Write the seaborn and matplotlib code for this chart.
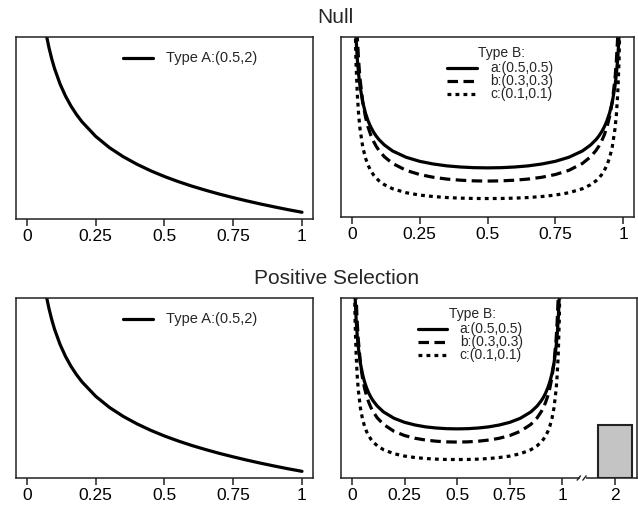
import numpy as np
import pandas as pd
import matplotlib
matplotlib.use("Agg")
import matplotlib.pyplot as plt
from matplotlib.lines import Line2D
import seaborn as sns

# ---------------- data ----------------
xA = [0.06, 0.07, 0.08, 0.09, 0.10, 0.12, 0.14, 0.16, 0.18, 0.20, 0.25, 0.30, 0.35,
      0.40, 0.45, 0.50, 0.55, 0.60, 0.65, 0.70, 0.75, 0.80, 0.85, 0.90, 0.95, 1.00]
yA = [2.878, 2.636, 2.440, 2.275, 2.134, 1.905, 1.724, 1.575, 1.450, 1.342, 1.125, 0.958, 0.824,
      0.712, 0.615, 0.530, 0.455, 0.387, 0.326, 0.269, 0.217, 0.168, 0.122, 0.079, 0.038, 0.0]

xB = [0.005, 0.01, 0.015, 0.02, 0.025, 0.03, 0.04, 0.05, 0.06, 0.07, 0.08, 0.09, 0.10, 0.12, 0.15,
      0.20, 0.25, 0.30, 0.35, 0.40, 0.45, 0.50, 0.55, 0.60, 0.65, 0.70, 0.75, 0.80, 0.85, 0.88,
      0.90, 0.91, 0.92, 0.93, 0.94, 0.95, 0.96, 0.97, 0.975, 0.98, 0.985, 0.99, 0.995]
yBa = [4.513, 3.199, 2.619, 2.274, 2.039, 1.866, 1.624, 1.461, 1.340, 1.248, 1.173, 1.112, 1.061, 0.980, 0.891,
       0.796, 0.735, 0.695, 0.667, 0.650, 0.640, 0.637, 0.640, 0.650, 0.667, 0.695, 0.735, 0.796, 0.891, 0.980,
       1.061, 1.112, 1.173, 1.248, 1.340, 1.461, 1.624, 1.866, 2.039, 2.274, 2.619, 3.199, 4.513]
yBb = [6.81, 4.210, 3.180, 2.609, 2.240, 1.979, 1.630, 1.404, 1.245, 1.126, 1.034, 0.959, 0.898, 0.803, 0.704,
       0.600, 0.537, 0.496, 0.469, 0.452, 0.442, 0.439, 0.442, 0.452, 0.469, 0.496, 0.537, 0.600, 0.704, 0.803,
       0.898, 0.959, 1.034, 1.126, 1.245, 1.404, 1.630, 1.979, 2.240, 2.609, 3.180, 4.210, 6.81]
yBc = [6.0, 3.229, 2.252, 1.746, 1.435, 1.224, 0.954, 0.787, 0.675, 0.593, 0.531, 0.482, 0.443, 0.384, 0.324,
       0.264, 0.229, 0.207, 0.192, 0.183, 0.178, 0.177, 0.178, 0.183, 0.192, 0.207, 0.229, 0.264, 0.324, 0.384,
       0.443, 0.482, 0.531, 0.593, 0.675, 0.787, 0.954, 1.224, 1.435, 1.746, 2.252, 3.229, 6.0]

labelA = "Type A:(0.5,2)"
legendB_title = "Type B:"
labelsB = ["a:(0.5,0.5)", "b:(0.3,0.3)", "c:(0.1,0.1)"]
titles = ["Null", "Positive Selection"]

ticks01 = [0, 0.25, 0.5, 0.75, 1]
ticklabels01 = ["0", "0.25", "0.5", "0.75", "1"]
ticks_ext = [0, 0.25, 0.5, 0.75, 1, 1.25]
ticklabels_ext = ["0", "0.25", "0.5", "0.75", "1", "2"]

bar_pos = [1.25]
bar_val = [0.69]

# ---------------- style ----------------
sns.set_theme(style="white")
plt.rcParams["font.family"] = ["Liberation Sans", "DejaVu Sans"]
plt.rcParams["axes.edgecolor"] = "#222222"
plt.rcParams["axes.linewidth"] = 1.1

fig = plt.figure(figsize=(6.38, 5.09), dpi=100)
W, H = 638.0, 509.0

def add_axes(l, r, t, b):
    return fig.add_axes([l / W, 1 - b / H, (r - l) / W, (b - t) / H])

ax_tl = add_axes(16, 313, 37, 219)
ax_tr = add_axes(341, 634, 37, 217)
ax_bl = add_axes(16, 313, 298, 478)
ax_br = add_axes(341, 636.5, 298, 478)

LW = 2.3
DASH = (0, (3.3, 1.7))
DOT = (0, (1.2, 1.3))
LEG_FS = 10.0

def style_axes(ax, xlim, ticks, labels):
    ax.set_xlim(*xlim)
    ax.set_ylim(-0.1, 2.6)
    ax.set_xticks(ticks)
    ax.set_xticklabels(labels)
    ax.set_yticks([])
    ax.tick_params(axis="x", direction="out", length=5, width=1.1, color="#222222",
                   labelsize=12.5, pad=2.5, bottom=True, labelcolor="black")
    for s in ax.spines.values():
        s.set_visible(True)
        s.set_color("#222222")
        s.set_linewidth(1.1)
    ax.set_xlabel("")
    ax.set_ylabel("")

def legend_A(ax):
    ax.add_line(Line2D([0.360, 0.461], [0.885, 0.885], transform=ax.transAxes,
                       color="black", lw=LW, clip_on=False))
    ax.text(0.505, 0.885, labelA, transform=ax.transAxes, fontsize=10.5,
            va="center", ha="left")

def legend_B(ax, tx, ty, lx0, lx1, txt_x, rows):
    ax.text(tx, ty, legendB_title, transform=ax.transAxes, fontsize=LEG_FS,
            va="center", ha="center")
    for ls, lab, ry in zip(["-", DASH, DOT], labelsB, rows):
        ax.add_line(Line2D([lx0, lx1], [ry, ry], transform=ax.transAxes,
                           color="black", lw=LW, linestyle=ls, clip_on=False))
        ax.text(txt_x, ry, lab, transform=ax.transAxes, fontsize=LEG_FS,
                va="center", ha="left")

# ---------------- Type A panels ----------------
dfA = pd.DataFrame({"x": xA, "y": yA})
for ax in (ax_tl, ax_bl):
    sns.lineplot(data=dfA, x="x", y="y", ax=ax, color="black", linewidth=LW, sort=False)
    style_axes(ax, (-0.04, 1.04), ticks01, ticklabels01)
    legend_A(ax)

# ---------------- Type B panels ----------------
dfB = pd.DataFrame({"x": xB, "a": yBa, "b": yBb, "c": yBc})
for ax in (ax_tr, ax_br):
    sns.lineplot(data=dfB, x="x", y="a", ax=ax, color="black", linewidth=LW, sort=False)
    sns.lineplot(data=dfB, x="x", y="b", ax=ax, color="black", linewidth=LW, sort=False,
                 linestyle=DASH)
    sns.lineplot(data=dfB, x="x", y="c", ax=ax, color="black", linewidth=LW, sort=False,
                 linestyle=DOT)

style_axes(ax_tr, (-0.04, 1.04), ticks01, ticklabels01)
legend_B(ax_tr, 0.548, 0.910, 0.362, 0.464, 0.509, [0.828, 0.756, 0.684])

# bottom-right with extended axis and bar
ax_br.bar(bar_pos, [v + 0.1 for v in bar_val], bottom=-0.1, width=0.16,
          color="#c4c4c4", edgecolor="#222222", linewidth=1.5, zorder=3)
style_axes(ax_br, (-0.052, 1.352), ticks_ext, ticklabels_ext)
legend_B(ax_br, 0.444, 0.910, 0.260, 0.358, 0.402, [0.828, 0.756, 0.684])

# axis break mark
tr = ax_br.get_xaxis_transform()
ax_br.add_patch(plt.Rectangle((1.085, -0.02), 0.025, 0.04, transform=tr,
                              facecolor="white", edgecolor="none", clip_on=False, zorder=5))
for xb in (1.078, 1.105):
    ax_br.add_line(Line2D([xb - 0.008, xb + 0.008], [-0.012, 0.012], transform=tr,
                          color="#222222", lw=1.0, clip_on=False, zorder=6))

# titles
fig.text(335 / W, 1 - 17.5 / H, titles[0], fontsize=15, ha="center", va="center")
fig.text(337 / W, 1 - 278 / H, titles[1], fontsize=15, ha="center", va="center")

fig.savefig("out.png", dpi=100)
